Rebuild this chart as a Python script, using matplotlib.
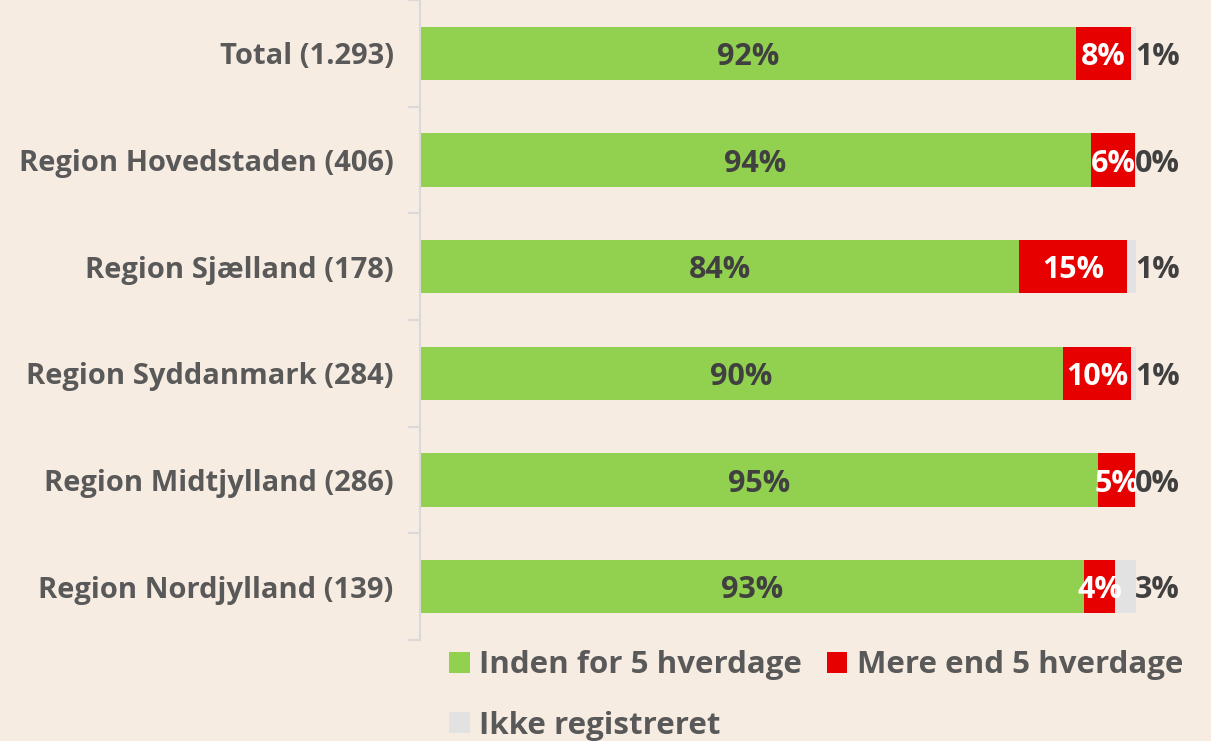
import matplotlib
matplotlib.use("Agg")
import matplotlib.pyplot as plt
from matplotlib.ticker import FixedLocator
import numpy as np

categories = ["Total (1.293)", "Region Hovedstaden (406)", "Region Sjælland (178)",
              "Region Syddanmark (284)", "Region Midtjylland (286)", "Region Nordjylland (139)"]
series_names = ["Inden for 5 hverdage", "Mere end 5 hverdage", "Ikke registreret"]
inden = [91.6, 93.7, 83.7, 89.8, 94.7, 92.8]
mere = [7.7, 6.2, 15.0, 9.5, 5.2, 4.3]
ikke = [0.7, 0.1, 1.3, 0.7, 0.1, 2.9]

BG = "#F7ECE2"
GREEN = "#92D050"
RED = "#E60000"
GREY = "#E2E2E2"
TXT = "#595959"
DARK = "#404040"

plt.rcParams['font.family'] = ['Open Sans', 'DejaVu Sans']
plt.rcParams['font.weight'] = 'bold'

W, H = 1211, 741
fig = plt.figure(figsize=(W/100, H/100), dpi=100, facecolor=BG)
ax = fig.add_axes([420/W, 1-640/H, 716/W, 640/H])
ax.set_facecolor(BG)

n = len(categories)
y = np.arange(n)
h = 0.5
ax.barh(y, inden, height=h, color=GREEN, label=series_names[0])
ax.barh(y, mere, left=inden, height=h, color=RED, label=series_names[1])
left2 = np.array(inden) + np.array(mere)
ax.barh(y, ikke, left=left2, height=h, color=GREY, label=series_names[2])

ax.set_xlim(0, 100)
ax.set_ylim(n-0.5, -0.5)

fs = 22
for i in range(n):
    ax.text(inden[i]/2, y[i], f"{inden[i]:.0f}%", ha='center', va='center_baseline',
            color=DARK, fontsize=fs, fontweight='bold')
    ax.text(inden[i] + mere[i]/2, y[i], f"{mere[i]:.0f}%", ha='center', va='center_baseline',
            color='white', fontsize=fs, fontweight='bold')
    ax.text(99.9, y[i], f"{ikke[i]:.0f}%", ha='left', va='center_baseline',
            color=DARK, fontsize=fs, fontweight='bold', clip_on=False)

ax.set_yticks(y)
ax.set_yticklabels(categories, fontsize=21, color=TXT, fontweight='bold')
ax.yaxis.set_minor_locator(FixedLocator(np.arange(-0.5, n, 1.0)))
ax.tick_params(axis='y', which='major', length=0, pad=19)
ax.tick_params(axis='y', which='minor', length=9, color="#D9D9D9", width=1.5)
ax.set_xticks([])
for s in ['top', 'right', 'bottom']:
    ax.spines[s].set_visible(False)
ax.spines['left'].set_color("#D9D9D9")
ax.spines['left'].set_linewidth(1.5)

handles, labels = ax.get_legend_handles_labels()
order = [0, 2, 1]
leg = fig.legend([handles[i] for i in order], [labels[i] for i in order],
                 loc='upper left', bbox_to_anchor=(440/W, 1-641/H), ncol=2,
                 frameon=False, fontsize=22.5, handlelength=0.65, handleheight=0.65,
                 handletextpad=0.3, columnspacing=0.8, labelspacing=0.97,
                 borderaxespad=0, borderpad=0.3)
for t in leg.get_texts():
    t.set_color(TXT)
    t.set_fontweight('bold')

fig.savefig("out.png", dpi=100, facecolor=BG)
